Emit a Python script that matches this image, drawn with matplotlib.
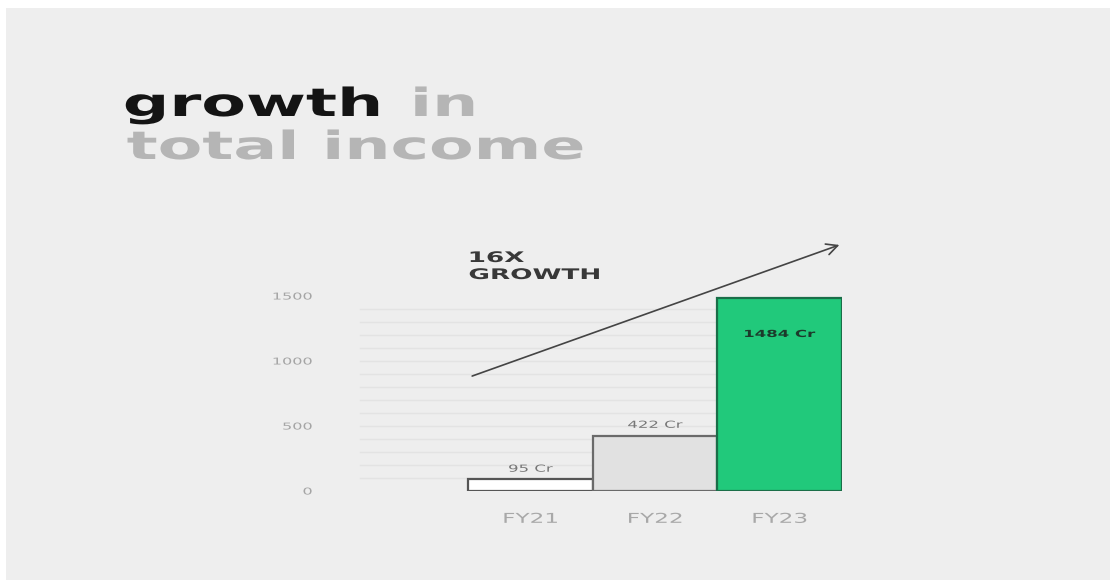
import numpy as np
import matplotlib.pyplot as plt
from matplotlib.patches import Rectangle
from matplotlib.patheffects import AbstractPathEffect
from matplotlib.transforms import Affine2D

years = ['FY21', 'FY22', 'FY23']
income = [95, 422, 1484]
labels = ['95 Cr', '422 Cr', '1484 Cr']
yticks = [0, 500, 1000, 1500]

plt.rcParams['font.family'] = 'DejaVu Sans'

# the picture is stretched sideways, so the lettering is too
class Stretch(AbstractPathEffect):
    def __init__(self, sx, anchor='center'):
        super().__init__()
        self.sx = sx
        self.anchor = anchor

    def draw_path(self, renderer, gc, tpath, affine, rgbFace=None):
        ext = tpath.transformed(affine).get_extents()
        if self.anchor == 'left':
            cx = ext.x0
        elif self.anchor == 'right':
            cx = ext.x1
        else:
            cx = (ext.x0 + ext.x1) / 2
        t = affine + Affine2D().translate(-cx, 0).scale(self.sx, 1).translate(cx, 0)
        renderer.draw_path(gc, tpath, t, rgbFace)

SX = 1.7

W, H = 1112, 580
fig = plt.figure(figsize=(W/100, H/100), dpi=100, facecolor='white')
fig.patches.append(Rectangle((6/W, 0), (1110-6)/W, (580-8)/H, transform=fig.transFigure,
                             facecolor='#eeeeee', edgecolor='none', zorder=-1))

# title
left = dict(path_effects=[Stretch(1.67, 'left')], fontsize=28, fontweight='bold', va='baseline')
fig.text(124/W, 1-116/H, 'growth', color='#141414', **left)
fig.text(412/W, 1-116/H, 'in', color='#b5b5b5', **left)
fig.text(127/W, 1-159/H, 'total income', color='#b5b5b5', **left)

# axes: left 340, right 842, bottom 491, top 296 (=1500)
ax = fig.add_axes([340/W, 1-491/H, (842-340)/W, (491-296)/H])
ax.set_facecolor('none')
x = np.arange(len(years))
ax.set_xlim(-1.53, 2.5)
ax.set_ylim(0, 1500)

for yy in range(100, 1500, 100):
    ax.axhline(yy, xmin=0.04, color='#e3e3e3', lw=1, zorder=0)

faces = ['white', '#e1e1e1', '#21c97b']
edges = ['#555555', '#6a6a6a', '#1a6e48']
ax.bar(x, income, width=1.0, color=faces, edgecolor=edges, linewidth=1.6, zorder=2)

ax.annotate(labels[0], (x[0], income[0]), xytext=(0, 5), textcoords='offset points',
            ha='center', va='baseline', fontsize=7, color='#777777',
            path_effects=[Stretch(SX)])
ax.annotate(labels[1], (x[1], income[1]), xytext=(0, 6), textcoords='offset points',
            ha='center', va='baseline', fontsize=7, color='#777777',
            path_effects=[Stretch(SX)])
ax.annotate(labels[2], (x[2], income[2]), xytext=(0, -28), textcoords='offset points',
            ha='center', va='baseline', fontsize=7, color='#1c3a2b', fontweight='bold',
            path_effects=[Stretch(SX)])

ax.set_yticks(yticks)
ax.set_yticklabels([str(t) for t in yticks], fontsize=6.8, color='#a5a5a5')
ax.set_xticks(x)
ax.set_xticklabels(years, fontsize=9.8, color='#a8a8a8')
ax.tick_params(axis='y', length=0, pad=20)
ax.tick_params(axis='x', length=0, pad=15)
for t in ax.yaxis.get_major_ticks():
    t.label1.set_path_effects([Stretch(SX, 'right')])
for t in ax.xaxis.get_major_ticks():
    t.label1.set_path_effects([Stretch(SX)])
for s in ax.spines.values():
    s.set_visible(False)

# growth arrow
ax.annotate('', xy=(2.5, 1900), xytext=(-0.49, 877),
            arrowprops=dict(arrowstyle='->', color='#444444', lw=1.2, mutation_scale=20),
            annotation_clip=False)
lab = dict(path_effects=[Stretch(1.8, 'left')], fontsize=10.5, fontweight='bold',
           color='#383838', va='baseline')
fig.text(469/W, 1-262/H, '16X', **lab)
fig.text(469/W, 1-279/H, 'GROWTH', **lab)

fig.savefig('out.png', dpi=100, facecolor='white')
